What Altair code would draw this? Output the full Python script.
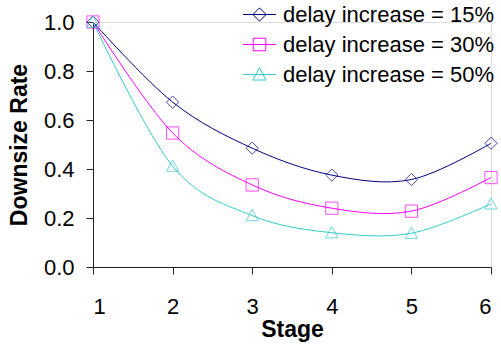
import altair as alt
import pandas as pd

stages = [1, 2, 3, 4, 5, 6]
series_names = ["delay increase = 15%", "delay increase = 30%", "delay increase = 50%"]
rate_15 = [1.0, 0.673, 0.485, 0.375, 0.357, 0.505]
rate_30 = [1.0, 0.547, 0.335, 0.240, 0.228, 0.365]
rate_50 = [1.0, 0.412, 0.210, 0.140, 0.138, 0.258]
colors = ["#000080", "#FF00FF", "#33CCCC"]
plot_shapes = [
    "M-1,0L0,-1L1,0L0,1Z",
    "M-1,-1L1,-1L1,1L-1,1Z",
    "M0,-1L1,0.85L-1,0.85Z",
]
legend_shapes = [
    "M-1.5,0L1.5,0M-0.6,0L0,-0.6L0.6,0L0,0.6Z",
    "M-1.5,0L1.5,0M-0.57,-0.57L0.57,-0.57L0.57,0.57L-0.57,0.57Z",
    "M-1.5,0L1.5,0M0,-0.62L0.6,0.5L-0.6,0.5Z",
]

rows = []
for name, vals in zip(series_names, [rate_15, rate_30, rate_50]):
    for s, v in zip(stages, vals):
        rows.append({"stage": s, "rate": v, "series": name})
df = pd.DataFrame(rows)

FONT = "Liberation Sans"


def color_scale():
    return alt.Scale(domain=series_names, range=colors)


x_enc = alt.X(
    "stage:Q",
    scale=alt.Scale(domain=[1, 6], nice=False, zero=False),
    axis=alt.Axis(
        values=stages, format="d", title="Stage", grid=False,
        labelFontSize=22, labelFont=FONT, labelPadding=22, labelColor="#000",
        titleFontSize=23, titleFont=FONT, titleFontWeight="bold", titleColor="#000",
        titlePadding=1, tickSize=7, tickColor="#222", domainColor="#222",
    ),
)
y_enc = alt.Y(
    "rate:Q",
    scale=alt.Scale(domain=[0, 1], nice=False),
    axis=alt.Axis(
        values=[0, 0.2, 0.4, 0.6, 0.8, 1.0], format=".1f", title="Downsize Rate", grid=False,
        labelFontSize=22, labelFont=FONT, labelPadding=12, labelColor="#000",
        titleFontSize=23, titleFont=FONT, titleFontWeight="bold", titleColor="#000",
        titlePadding=12, tickSize=7, tickColor="#222", domainColor="#222",
    ),
)

legend_def = alt.Legend(
    title=None, orient="none", legendX=155, legendY=-19,
    labelFontSize=22, labelFont=FONT, labelColor="#000", labelLimit=400,
    symbolSize=484, symbolStrokeWidth=1, symbolOpacity=1,
    labelOffset=12, rowPadding=7, padding=0,
    symbolFillColor="transparent",
)

base = alt.Chart(df)

lines = base.mark_line(interpolate="cardinal", strokeWidth=1, clip=False).encode(
    x=x_enc, y=y_enc,
    color=alt.Color("series:N", scale=color_scale(), legend=None),
    detail="series:N",
)

points = base.mark_point(filled=False, size=150, strokeWidth=1, clip=False).encode(
    x=x_enc, y=y_enc,
    color=alt.Color("series:N", scale=color_scale(), legend=None),
    shape=alt.Shape("series:N", scale=alt.Scale(domain=series_names, range=plot_shapes), legend=None),
)

legend_layer = base.mark_point(filled=False, opacity=0, strokeWidth=1, clip=False).encode(
    x=x_enc, y=y_enc,
    color=alt.Color("series:N", scale=color_scale(), legend=legend_def),
    shape=alt.Shape("series:N", scale=alt.Scale(domain=series_names, range=legend_shapes), legend=legend_def),
)

chart = (
    alt.layer(lines, points, legend_layer)
    .resolve_scale(shape="independent", color="independent")
    .properties(
        width=398, height=245,
        autosize=alt.AutoSizeParams(type="none"),
        padding={"left": 93, "top": 22, "right": 10, "bottom": 80},
    )
    .configure_view(stroke=None)
    .configure(background="white")
)

chart.save("out.html", embed_options={"renderer": "svg", "actions": False})
